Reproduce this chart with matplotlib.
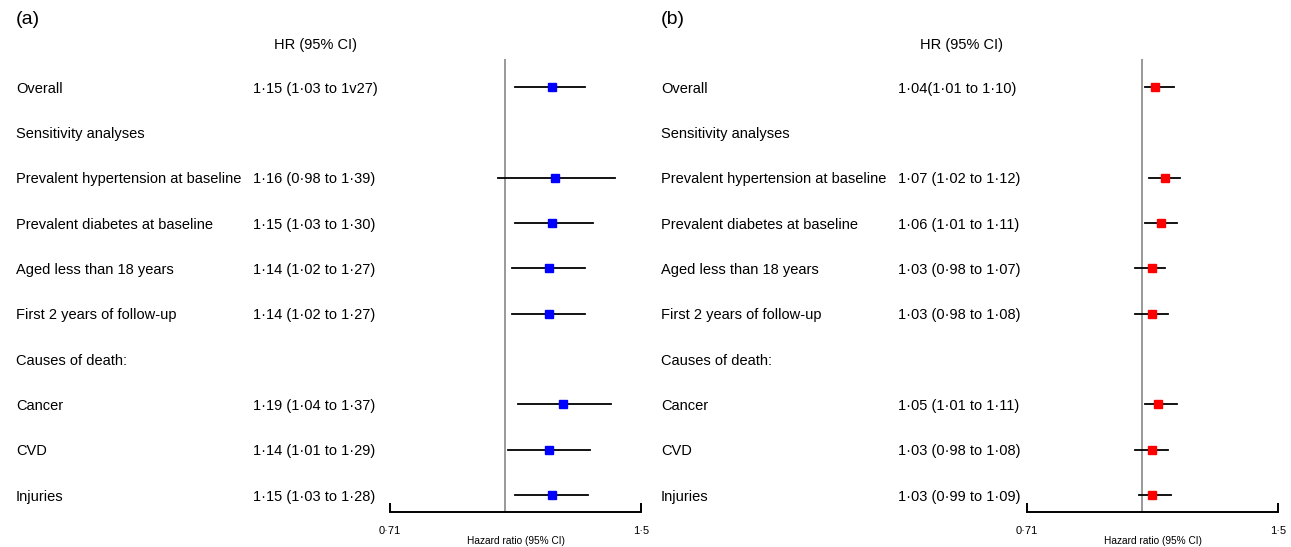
import matplotlib.pyplot as plt
import matplotlib.transforms as mtransforms

plt.rcParams['font.family'] = ['Liberation Sans', 'DejaVu Sans']

# Row labels (same for both panels)
rows = [
    "Overall",
    "Sensitivity analyses",
    "Prevalent hypertension at baseline",
    "Prevalent diabetes at baseline",
    "Aged less than 18 years",
    "First 2 years of follow-up",
    "Causes of death:",
    "Cancer",
    "CVD",
    "Injuries",
]

# Panel (a)
hr_a = [1.15, None, 1.16, 1.15, 1.14, 1.14, None, 1.19, 1.14, 1.15]
lo_a = [1.03, None, 0.98, 1.03, 1.02, 1.02, None, 1.04, 1.01, 1.03]
hi_a = [1.27, None, 1.39, 1.30, 1.27, 1.27, None, 1.37, 1.29, 1.28]
txt_a = ["1·15 (1·03 to 1v27)", "", "1·16 (0·98 to 1·39)", "1·15 (1·03 to 1·30)",
         "1·14 (1·02 to 1·27)", "1·14 (1·02 to 1·27)", "", "1·19 (1·04 to 1·37)",
         "1·14 (1·01 to 1·29)", "1·15 (1·03 to 1·28)"]

# Panel (b)
hr_b = [1.04, None, 1.07, 1.06, 1.03, 1.03, None, 1.05, 1.03, 1.03]
lo_b = [1.01, None, 1.02, 1.01, 0.98, 0.98, None, 1.01, 0.98, 0.99]
hi_b = [1.10, None, 1.12, 1.11, 1.07, 1.08, None, 1.11, 1.08, 1.09]
txt_b = ["1·04(1·01 to 1·10)", "", "1·07 (1·02 to 1·12)", "1·06 (1·01 to 1·11)",
         "1·03 (0·98 to 1·07)", "1·03 (0·98 to 1·08)", "", "1·05 (1·01 to 1·11)",
         "1·03 (0·98 to 1·08)", "1·03 (0·99 to 1·09)"]

x_min, x_max = 0.71, 1.5
tick_labels = ["0·71", "1·5"]

W, H = 1291, 547
fig = plt.figure(figsize=(W / 100, H / 100), dpi=100)


def draw_panel(left_px, label_x_px, hr_x_px, tag, hr, lo, hi, txt, color):
    ax = fig.add_axes([left_px / W, 1 - 512 / H, 251 / W, (512 - 59) / H])
    ax.set_xscale('log')
    ax.set_xlim(x_min, x_max)
    ax.set_ylim(9.375, -0.618)

    # reference line at HR = 1
    ax.axvline(1.0, color='#999999', lw=1.4, zorder=1)
    for i in range(len(rows)):
        if hr[i] is None:
            continue
        ax.plot([lo[i], hi[i]], [i, i], color='black', lw=1.3, zorder=2)
        ax.plot(hr[i], i, marker='s', ms=6.4, color=color, mec=color, zorder=3)

    for s in ['top', 'right', 'left']:
        ax.spines[s].set_visible(False)
    ax.spines['bottom'].set_linewidth(1.4)
    ax.set_yticks([])
    ax.set_xticks([x_min, x_max])
    ax.set_xticks([], minor=True)
    ax.set_xticklabels(tick_labels, fontsize=8)
    ax.tick_params(axis='x', direction='in', length=6.5, width=1.4, pad=10)
    ax.set_xlabel("Hazard ratio (95% CI)", fontsize=7.3, labelpad=0)

    # text columns: x in figure coords, y in data rows
    trans = mtransforms.blended_transform_factory(fig.transFigure, ax.transData)
    for i, name in enumerate(rows):
        ax.text(label_x_px / W, i, name, transform=trans, fontsize=10.5,
                va='center_baseline', ha='left', clip_on=False)
        if txt[i]:
            ax.text(hr_x_px / W, i, txt[i], transform=trans, fontsize=10.5,
                    va='center_baseline', ha='left', clip_on=False)

    fig.text((hr_x_px + 63) / W, 1 - 44 / H, "HR (95% CI)", fontsize=10.5,
             ha='center', va='center_baseline')
    fig.text(label_x_px / W, 1 - 18 / H, tag, fontsize=14, ha='left', va='center_baseline')
    return ax


draw_panel(390, 16, 253, "(a)", hr_a, lo_a, hi_a, txt_a, 'blue')
draw_panel(1027, 661, 898, "(b)", hr_b, lo_b, hi_b, txt_b, 'red')

fig.savefig("out.png", dpi=100)
